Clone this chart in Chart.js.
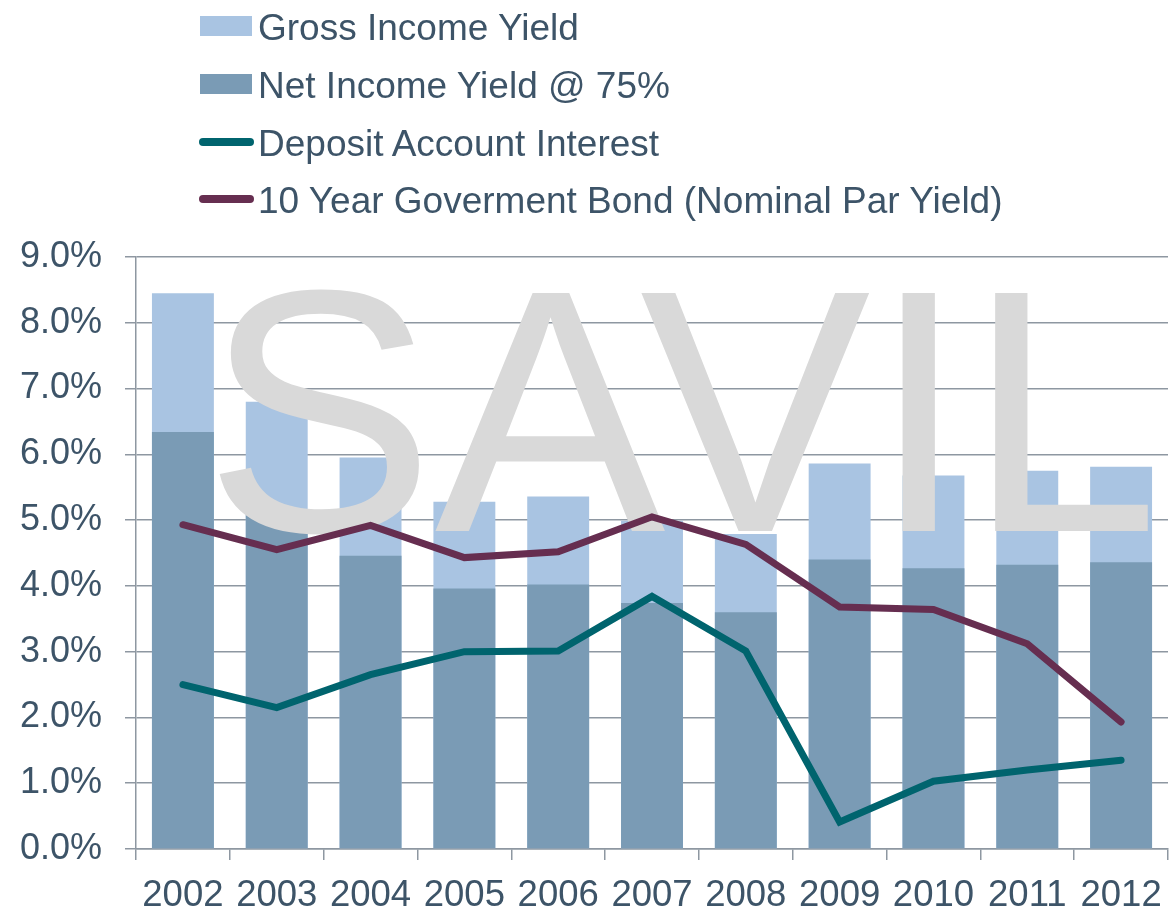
<!DOCTYPE html>
<html>
<head>
<meta charset="utf-8">
<script src="https://cdn.jsdelivr.net/npm/chart.js@4/dist/chart.umd.min.js"></script>
<style>
  html, body { margin: 0; padding: 0; background: #ffffff; }
  #wrap { position: relative; width: 1169px; height: 914px; }
  #c { position: absolute; left: 0; top: 0; }
  #legend { position: absolute; left: 0; top: 0; font-family: 'Liberation Sans', Arial, sans-serif; font-size: 37px; color: #3d5468; }
  .item { position: absolute; left: 258px; white-space: nowrap; line-height: 1; }
  .sw { position: absolute; }
</style>
</head>
<body>
<div id="wrap">
  <canvas id="c" width="1169" height="914"></canvas>
  <div id="legend"></div>
</div>
<script>
const categories = ['2002','2003','2004','2005','2006','2007','2008','2009','2010','2011','2012'];
const grossIncomeYield = [8.45, 6.80, 5.95, 5.28, 5.36, 4.99, 4.79, 5.86, 5.68, 5.75, 5.81];
const netIncomeYield = [6.34, 5.10, 4.46, 3.96, 4.02, 3.74, 3.60, 4.40, 4.27, 4.32, 4.36];
const depositInterest = [2.50, 2.15, 2.65, 3.00, 3.01, 3.84, 3.01, 0.41, 1.03, 1.20, 1.35];
const govBond10y = [4.93, 4.55, 4.92, 4.43, 4.52, 5.05, 4.63, 3.68, 3.64, 3.12, 1.93];
const seriesNames = ['Gross Income Yield', 'Net Income Yield @ 75%', 'Deposit Account Interest', '10 Year Goverment Bond (Nominal Par Yield)'];
const yTicks = [0, 1, 2, 3, 4, 5, 6, 7, 8, 9];
const watermarkText = 'SAVIL';

const colors = ['#a9c4e2', '#7a9bb5', '#00646e', '#662e50'];
const FONT = "'Liberation Sans', Arial, sans-serif";
const TEXT = '#3d5468';
const GRID = '#8e97a1';

// HTML legend (single column)
const legend = document.getElementById('legend');
const rowCenters = [26, 84, 142, 199];
seriesNames.forEach((name, i) => {
  const sw = document.createElement('div');
  sw.className = 'sw';
  if (i < 2) {
    sw.style.left = '200px'; sw.style.width = '52px';
    sw.style.top = (rowCenters[i] - 10) + 'px'; sw.style.height = '20px';
  } else {
    sw.style.left = '199px'; sw.style.width = '55px';
    sw.style.top = (rowCenters[i] - 4) + 'px'; sw.style.height = '8px';
    sw.style.borderRadius = '4px';
  }
  sw.style.background = colors[i];
  legend.appendChild(sw);
  const t = document.createElement('div');
  t.className = 'item';
  t.textContent = name;
  t.style.top = (rowCenters[i] - 17) + 'px';
  legend.appendChild(t);
});

const watermarkPlugin = {
  id: 'watermark',
  afterDatasetDraw(chart, args) {
    if (args.index !== 1) return;
    const ctx = chart.ctx;
    ctx.save();
    ctx.font = '346px ' + FONT;
    ctx.fillStyle = '#d9d9d9';
    ctx.textBaseline = 'alphabetic';
    ctx.textAlign = 'left';
    ctx.fillText(watermarkText, 204, 531);
    ctx.restore();
  }
};

new Chart(document.getElementById('c'), {
  data: {
    labels: categories,
    datasets: [
      { type: 'bar', label: seriesNames[0], data: grossIncomeYield, backgroundColor: colors[0], order: 4, grouped: false },
      { type: 'bar', label: seriesNames[1], data: netIncomeYield, backgroundColor: colors[1], order: 3, grouped: false },
      { type: 'line', label: seriesNames[2], data: depositInterest, borderColor: colors[2], backgroundColor: colors[2], borderWidth: 7, pointRadius: 0, tension: 0, order: 2, borderCapStyle: 'round' },
      { type: 'line', label: seriesNames[3], data: govBond10y, borderColor: colors[3], backgroundColor: colors[3], borderWidth: 7, pointRadius: 0, tension: 0, order: 1, borderCapStyle: 'round' }
    ]
  },
  options: {
    responsive: false,
    animation: false,
    devicePixelRatio: 1,
    layout: { padding: { top: 257, right: 1, left: 0, bottom: 0 } },
    datasets: { bar: { barPercentage: 0.66, categoryPercentage: 1.0 } },
    plugins: { legend: { display: false }, tooltip: { enabled: false } },
    scales: {
      x: {
        offset: true,
        grid: { display: true, drawOnChartArea: false, drawTicks: true, tickLength: 11, color: GRID, lineWidth: 1.5, offset: true },
        border: { display: true, color: GRID, width: 1.5 },
        ticks: { color: TEXT, font: { family: FONT, size: 36.5 }, padding: 14, maxRotation: 0, autoSkip: false },
        afterFit(s) { s.height = 65; s.paddingLeft = 0; s.paddingRight = 0; }
      },
      y: {
        min: 0, max: 9,
        afterBuildTicks(s) { s.ticks = yTicks.map(v => ({ value: v })); },
        grid: { color: GRID, lineWidth: 1.5, tickLength: 11, drawTicks: true },
        border: { display: true, color: GRID, width: 1.5 },
        ticks: { color: TEXT, font: { family: FONT, size: 36 }, padding: 23, callback: v => v.toFixed(1) + '%' },
        afterFit(s) { s.width = 136; }
      }
    }
  },
  plugins: [watermarkPlugin]
});
</script>
</body>
</html>
